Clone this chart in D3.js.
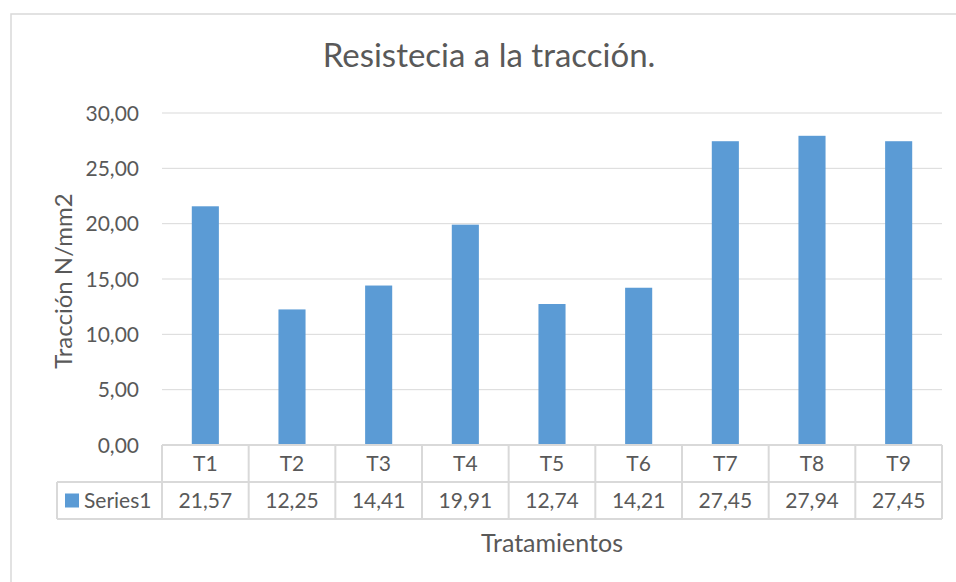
<!DOCTYPE html>
<html>
<head>
<meta charset="utf-8">
<script src="https://cdn.jsdelivr.net/npm/d3@7"></script>
<style>
  html, body { margin: 0; padding: 0; background: #fff; }
  svg { display: block; font-family: Lato, "Open Sans", sans-serif; }
  text { fill: #595959; }
</style>
</head>
<body>
<svg width="956" height="582"></svg>
<script>
// data
const categories = ["T1","T2","T3","T4","T5","T6","T7","T8","T9"];
const series1 = [21.57, 12.25, 14.41, 19.91, 12.74, 14.21, 27.45, 27.94, 27.45];
const yTicks = [0, 5, 10, 15, 20, 25, 30];
const seriesName = "Series1";

const svg = d3.select("svg");
const fmt = d3.formatLocale({decimal: ",", thousands: ".", grouping: [3], currency: ["", ""]}).format(".2f");

const plotL = 162, plotR = 942, plotT = 113, plotB = 445;
const rowH = 37;   // data table row height

// chart area border (right and bottom run off the picture)
svg.append("rect")
    .attr("x", 11).attr("y", 14)
    .attr("width", 1000).attr("height", 700)
    .attr("fill", "none")
    .attr("stroke", "#d9d9d9")
    .attr("stroke-width", 1.5);

const x = d3.scaleBand()
    .domain(categories)
    .range([plotL, plotR])
    .paddingInner(0.6875)
    .paddingOuter(0.6875 / 2);

const y = d3.scaleLinear()
    .domain([0, 30])
    .range([plotB, plotT]);

// gridlines
svg.append("g")
    .selectAll("line")
    .data(yTicks.filter(d => d > 0))
    .join("line")
    .attr("x1", plotL).attr("x2", plotR)
    .attr("y1", d => y(d)).attr("y2", d => y(d))
    .attr("stroke", "#d9d9d9")
    .attr("stroke-width", 1);

// tick labels
svg.append("g")
    .selectAll("text")
    .data(yTicks)
    .join("text")
    .attr("x", 139)
    .attr("y", d => y(d))
    .attr("dy", "0.36em")
    .attr("text-anchor", "end")
    .attr("font-size", 21)
    .text(d => fmt(d));

// bars
svg.append("g")
    .selectAll("rect")
    .data(series1)
    .join("rect")
    .attr("x", (d, i) => x(categories[i]))
    .attr("y", d => y(d))
    .attr("width", x.bandwidth())
    .attr("height", d => y(0) - y(d))
    .attr("fill", "#5b9bd5");

// data table
const step = x.step();
const table = svg.append("g")
    .attr("stroke", "#d9d9d9")
    .attr("stroke-width", 2);

table.append("line")
    .attr("x1", plotL).attr("x2", plotR)
    .attr("y1", plotB).attr("y2", plotB);
table.append("line")
    .attr("x1", 57).attr("x2", plotR)
    .attr("y1", plotB + rowH).attr("y2", plotB + rowH);
table.append("line")
    .attr("x1", 57).attr("x2", plotR)
    .attr("y1", plotB + 2 * rowH).attr("y2", plotB + 2 * rowH);
table.append("line")
    .attr("x1", 57).attr("x2", 57)
    .attr("y1", plotB + rowH).attr("y2", plotB + 2 * rowH);
table.selectAll(".vline")
    .data(d3.range(categories.length + 1))
    .join("line")
    .attr("class", "vline")
    .attr("x1", i => plotL + i * step).attr("x2", i => plotL + i * step)
    .attr("y1", plotB).attr("y2", plotB + 2 * rowH);

svg.append("g")
    .selectAll("text")
    .data(categories)
    .join("text")
    .attr("x", d => x(d) + x.bandwidth() / 2)
    .attr("y", plotB + rowH / 2)
    .attr("dy", "0.36em")
    .attr("text-anchor", "middle")
    .attr("font-size", 21)
    .text(d => d);

svg.append("g")
    .selectAll("text")
    .data(series1)
    .join("text")
    .attr("x", (d, i) => x(categories[i]) + x.bandwidth() / 2)
    .attr("y", plotB + rowH * 1.5)
    .attr("dy", "0.36em")
    .attr("text-anchor", "middle")
    .attr("font-size", 21)
    .text(d => fmt(d));

// legend key in table
svg.append("rect")
    .attr("x", 65).attr("y", plotB + rowH * 1.5 - 7)
    .attr("width", 14).attr("height", 14)
    .attr("fill", "#5b9bd5");
svg.append("text")
    .attr("x", 84)
    .attr("y", plotB + rowH * 1.5)
    .attr("dy", "0.36em")
    .attr("font-size", 21)
    .text(seriesName);

// titles
svg.append("text")
    .attr("x", 489).attr("y", 67)
    .attr("text-anchor", "middle")
    .attr("font-size", 33)
    .text("Resistecia a la tracción.");

svg.append("text")
    .attr("x", (plotL + plotR) / 2).attr("y", 552)
    .attr("text-anchor", "middle")
    .attr("font-size", 25)
    .text("Tratamientos");

svg.append("text")
    .attr("transform", `translate(72,${(plotT + plotB) / 2 + 2}) rotate(-90)`)
    .attr("text-anchor", "middle")
    .attr("font-size", 24)
    .text("Tracción N/mm2");
</script>
</body>
</html>
